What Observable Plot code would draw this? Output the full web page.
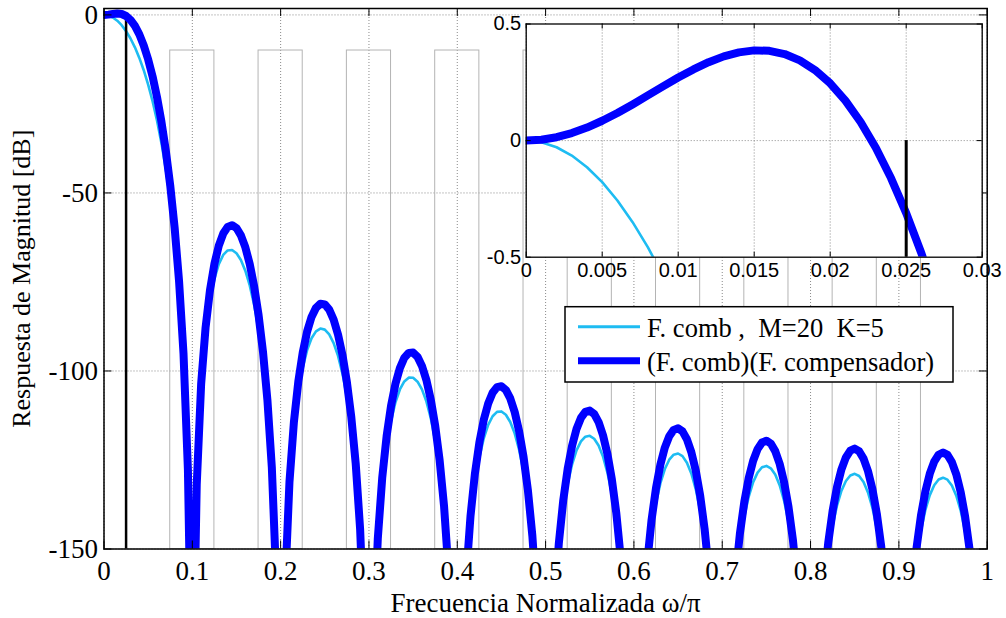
<!DOCTYPE html>
<html>
<head>
<meta charset="utf-8">
<script src="https://cdn.jsdelivr.net/npm/d3@7"></script>
<script src="https://cdn.jsdelivr.net/npm/@observablehq/plot@0.6"></script>
<style>
  html, body { margin: 0; padding: 0; background: #fff; }
  #wrap { position: relative; width: 1006px; height: 618px; overflow: hidden; background: #fff; }
</style>
</head>
<body>
<div id="wrap"></div>
<script>
// ---------- data ----------
const freq = [
0,0.005,0.01,0.015,0.02,0.025,0.03,0.035,0.04,0.045,0.05,0.055,0.06,0.065,0.07,0.075,0.08,0.085,0.09,0.095,
0.1,0.105,0.11,0.115,0.12,0.125,0.13,0.135,0.14,0.145,0.15,0.155,0.16,0.165,0.17,0.175,0.18,0.185,0.19,0.195,
0.2,0.205,0.21,0.215,0.22,0.225,0.23,0.235,0.24,0.245,0.25,0.255,0.26,0.265,0.27,0.275,0.28,0.285,0.29,0.295,
0.3,0.305,0.31,0.315,0.32,0.325,0.33,0.335,0.34,0.345,0.35,0.355,0.36,0.365,0.37,0.375,0.38,0.385,0.39,0.395,
0.4,0.405,0.41,0.415,0.42,0.425,0.43,0.435,0.44,0.445,0.45,0.455,0.46,0.465,0.47,0.475,0.48,0.485,0.49,0.495,
0.5,0.505,0.51,0.515,0.52,0.525,0.53,0.535,0.54,0.545,0.55,0.555,0.56,0.565,0.57,0.575,0.58,0.585,0.59,0.595,
0.6,0.605,0.61,0.615,0.62,0.625,0.63,0.635,0.64,0.645,0.65,0.655,0.66,0.665,0.67,0.675,0.68,0.685,0.69,0.695,
0.7,0.705,0.71,0.715,0.72,0.725,0.73,0.735,0.74,0.745,0.75,0.755,0.76,0.765,0.77,0.775,0.78,0.785,0.79,0.795,
0.8,0.805,0.81,0.815,0.82,0.825,0.83,0.835,0.84,0.845,0.85,0.855,0.86,0.865,0.87,0.875,0.88,0.885,0.89,0.895,
0.9,0.905,0.91,0.915,0.92,0.925,0.93,0.935,0.94,0.945,0.95,0.955,0.96,0.965,0.97,0.975,0.98,0.985,0.99,0.995,
1];

// F. comb, M=20 K=5  (dB)
const combDb = [
0,-0.18,-0.71,-1.62,-2.89,-4.55,-6.62,-9.11,-12.07,-15.54,-19.57,-24.24,-29.65,-35.94,-43.34,-52.17,-62.99,-76.82,-95.99,-127.9,
-200,-132.2,-104.63,-89.84,-80.44,-74.17,-70,-67.42,-66.15,-66.01,-66.92,-68.85,-71.84,-75.98,-81.44,-88.51,-97.73,-110.11,-127.94,-158.6,
-200,-160.7,-132.14,-116.42,-106.16,-99.06,-94.13,-90.83,-88.87,-88.09,-88.39,-89.74,-92.17,-95.78,-100.73,-107.33,-116.09,-128.03,-145.44,-175.7,
-250,-177.04,-148.11,-132.05,-121.45,-114.04,-108.8,-105.2,-102.95,-101.88,-101.91,-103,-105.18,-108.54,-113.26,-119.62,-128.15,-139.87,-157.06,-187.12,
-250,-188.06,-158.94,-142.69,-131.91,-124.32,-118.9,-115.13,-112.72,-111.49,-111.36,-112.29,-114.32,-117.53,-122.1,-128.32,-136.71,-148.29,-165.35,-195.27,
-250,-195.96,-166.72,-150.34,-139.44,-131.73,-126.2,-122.31,-119.79,-118.45,-118.21,-119.03,-120.95,-124.06,-128.53,-134.65,-142.94,-154.42,-171.39,-201.21,
-250,-201.71,-172.38,-155.91,-144.92,-137.13,-131.5,-127.54,-124.92,-123.5,-123.18,-123.92,-125.76,-128.79,-133.18,-139.22,-147.43,-158.84,-175.73,-205.48,
-250,-205.83,-176.42,-159.88,-148.82,-140.95,-135.26,-131.23,-128.55,-127.05,-126.66,-127.34,-129.11,-132.07,-136.39,-142.37,-150.52,-161.86,-178.69,-208.38,
-250,-208.6,-179.13,-162.53,-151.41,-143.48,-137.72,-133.63,-130.89,-129.34,-128.89,-129.5,-131.21,-134.12,-138.38,-144.29,-152.39,-163.67,-180.44,-210.07,
-250,-210.18,-180.66,-164,-152.82,-144.83,-139.03,-134.87,-132.08,-130.47,-129.97,-130.53,-132.18,-135.03,-139.24,-145.1,-153.14,-164.37,-181.09,-210.66,
-250];

// (F. comb)(F. compensador)  (dB)
const compDb = [
0,0.08,0.27,0.39,0.25,-0.31,-1.4,-3.1,-5.47,-8.58,-12.49,-17.28,-23.05,-29.93,-38.12,-47.93,-59.85,-74.82,-95.01,-127.63,
-200,-131.94,-103.64,-87.83,-77.31,-69.93,-64.78,-61.41,-59.55,-59.06,-59.85,-61.9,-65.24,-69.96,-76.22,-84.27,-94.59,-108.1,-126.95,-158.34,
-250,-160.44,-131.15,-114.41,-103.02,-94.83,-88.92,-84.82,-82.28,-81.13,-81.31,-82.78,-85.57,-89.77,-95.52,-103.09,-112.95,-126.02,-144.45,-175.43,
-250,-176.77,-147.13,-130.04,-118.32,-109.8,-103.58,-99.18,-96.35,-94.93,-94.84,-96.04,-98.58,-102.53,-108.04,-115.38,-125.01,-137.86,-156.08,-186.85,
-250,-187.79,-157.95,-140.68,-128.78,-120.08,-113.68,-109.12,-106.12,-104.53,-104.28,-105.33,-107.72,-111.52,-116.88,-124.08,-133.58,-146.28,-164.37,-195.01,
-250,-195.69,-165.73,-148.33,-136.31,-127.49,-120.98,-116.3,-113.19,-111.49,-111.13,-112.07,-114.35,-118.05,-123.31,-130.41,-139.81,-152.42,-170.4,-200.95,
-250,-201.45,-171.39,-153.91,-141.79,-132.89,-126.29,-121.52,-118.33,-116.55,-116.11,-116.97,-119.16,-122.78,-127.96,-134.98,-144.3,-156.84,-174.74,-205.22,
-250,-205.56,-175.44,-157.88,-145.69,-136.72,-130.05,-125.21,-121.95,-120.1,-119.59,-120.38,-122.51,-126.06,-131.18,-138.13,-147.39,-159.86,-177.7,-208.11,
-250,-208.33,-178.14,-160.52,-148.27,-139.24,-132.51,-127.61,-124.29,-122.38,-121.81,-122.54,-124.61,-128.1,-133.16,-140.06,-149.26,-161.67,-179.46,-209.81,
-250,-209.92,-179.67,-161.99,-149.69,-140.6,-133.81,-128.86,-125.48,-123.52,-122.9,-123.57,-125.59,-129.02,-134.02,-140.86,-150.01,-162.37,-180.1,-210.4,
-250];

// inset (zoom of the pass band)
const insetFreq = [0,0.001,0.002,0.003,0.004,0.005,0.006,0.007,0.008,0.009,0.01,0.011,0.012,0.013,0.014,0.015,0.016,0.017,0.018,0.019,0.02,0.021,0.022,0.023,0.024,0.025,0.026,0.027];
const insetComp = [0,0.0036,0.0145,0.0321,0.0559,0.0851,0.1186,0.1552,0.1937,0.2326,0.2703,0.3053,0.3361,0.3612,0.3784,0.3869,0.3849,0.3711,0.3441,0.3027,0.2455,0.1717,0.08,-0.0304,-0.1606,-0.3112,-0.4832,-0.6772];
const insetCombFreq = [0,0.001,0.002,0.003,0.004,0.005,0.006,0.007,0.008,0.009];
const insetComb = [0,-0.0071,-0.0285,-0.0642,-0.1141,-0.1783,-0.2568,-0.3497,-0.457,-0.5788];

// grey aliasing bands
const bandLeft  = [0.075,0.175,0.275,0.375,0.475,0.575,0.675,0.775,0.875];
const bandRight = [0.125,0.225,0.325,0.425,0.525,0.625,0.725,0.825,0.925];
const bandTop = -10;
const bandBottom = -150;
const markerFreq = 0.025;

// ticks & labels
const xTicks = [0,0.1,0.2,0.3,0.4,0.5,0.6,0.7,0.8,0.9,1];
const xTickLabels = ["0","0.1","0.2","0.3","0.4","0.5","0.6","0.7","0.8","0.9","1"];
const yTicks = [0,-50,-100,-150];
const yTickLabels = ["0","-50","-100","-150"];
const insetXTicks = [0,0.005,0.01,0.015,0.02,0.025,0.03];
const insetXTickLabels = ["0","0.005","0.01","0.015","0.02","0.025","0.03"];
const insetYTicks = [-0.5,0,0.5];
const insetYTickLabels = ["-0.5","0","0.5"];
const xLabel = "Frecuencia Normalizada \u03c9/\u03c0";
const yLabel = "Respuesta de Magnitud [dB]";
const legendLabels = ["F. comb ,  M=20  K=5", "(F. comb)(F. compensador)"];

// ---------- styles ----------
const cyan = "#1ebcf2";
const blue = "#0000ff";
const gridColor = "#8a8a8a";
const bandColor = "#b4b4b4";
const serif = "'Liberation Serif', 'Times New Roman', serif";
const sans = "'Liberation Sans', Arial, sans-serif";

// ---------- tables ----------
const mainRows = freq.map((f, i) => ({f, comb: combDb[i], comp: compDb[i]}));
const bands = bandLeft.map((l, i) => ({l, r: bandRight[i]}));
const insetRows = insetFreq.map((f, i) => ({f, comp: insetComp[i]}));
const insetCombRows = insetCombFreq.map((f, i) => ({f, comb: insetComb[i]}));
const xTickRows = xTicks.map((v, i) => ({v, s: xTickLabels[i]}));
const yTickRows = yTicks.map((v, i) => ({v, s: yTickLabels[i]}));
const ixTickRows = insetXTicks.map((v, i) => ({v, s: insetXTickLabels[i]}));
const iyTickRows = insetYTicks.map((v, i) => ({v, s: insetYTickLabels[i]}));

const wrap = document.getElementById("wrap");

// ---------- main plot ----------
const W = 1006, H = 618, mL = 103.5, mR = 19.3, mT = 8, mB = 69.5;
const pW = W - mL - mR, pH = H - mT - mB, tk = 8;

const main = Plot.plot({
  width: W, height: H,
  marginLeft: mL, marginRight: mR, marginTop: mT, marginBottom: mB,
  style: {fontFamily: serif, fontSize: "27px", background: "white", color: "black", overflow: "visible"},
  x: {domain: [0, 1], axis: null},
  y: {domain: [-150, 1.8], axis: null},
  marks: [
    Plot.gridX(xTicks, {stroke: gridColor, strokeOpacity: 1, strokeDasharray: "1,2"}),
    Plot.gridY(yTicks, {stroke: gridColor, strokeOpacity: 1, strokeDasharray: "1,2"}),
    Plot.rect(bands, {x1: "l", x2: "r", y1: bandBottom, y2: bandTop, fill: "none", stroke: bandColor, strokeWidth: 1}),
    Plot.line(mainRows, {x: "f", y: "comb", stroke: cyan, strokeWidth: 2.6, clip: true}),
    Plot.ruleX([markerFreq], {y1: 0, y2: -150, stroke: "black", strokeWidth: 2.5}),
    Plot.line(mainRows, {x: "f", y: "comp", stroke: blue, strokeWidth: 8, strokeLinejoin: "round", clip: true}),
    Plot.frame({stroke: "black", strokeWidth: 1.5}),
    Plot.tickX(xTicks, {x: d => d, stroke: "black", insetTop: pH - tk}),
    Plot.tickX(xTicks, {x: d => d, stroke: "black", insetBottom: pH - tk}),
    Plot.tickY(yTicks, {y: d => d, stroke: "black", insetRight: pW - tk}),
    Plot.tickY(yTicks, {y: d => d, stroke: "black", insetLeft: pW - tk}),
    Plot.text(xTickRows, {x: "v", text: "s", frameAnchor: "bottom", dy: 12, lineAnchor: "top", fontSize: 27, fill: "black"}),
    Plot.text(yTickRows, {y: "v", text: "s", frameAnchor: "left", dx: -6, textAnchor: "end", lineAnchor: "middle", fontSize: 27, fill: "black"}),
    Plot.text([xLabel], {text: d => d, frameAnchor: "bottom", dy: 54, lineAnchor: "middle", fontSize: 27, fill: "black"}),
    Plot.text([yLabel], {text: d => d, frameAnchor: "left", dx: -82, rotate: -90, textAnchor: "middle", lineAnchor: "middle", fontSize: 26, fill: "black"})
  ]
});
wrap.appendChild(main);

// ---------- inset plot ----------
const iW = 536, iH = 290, iL = 55.7, iR = 24.3, iT = 23.5, iB = 33.3;
const ipW = iW - iL - iR, ipH = iH - iT - iB, itk = 5;
const inset = Plot.plot({
  width: iW, height: iH,
  marginLeft: iL, marginRight: iR, marginTop: iT, marginBottom: iB,
  style: {fontFamily: sans, fontSize: "20px", background: "transparent", color: "black", overflow: "visible"},
  x: {domain: [0, 0.03], axis: null},
  y: {domain: [-0.5, 0.5], axis: null},
  marks: [
    Plot.frame({fill: "white", stroke: null}),
    Plot.gridX(insetXTicks, {stroke: gridColor, strokeOpacity: 1, strokeDasharray: "1,2"}),
    Plot.gridY([0], {stroke: gridColor, strokeOpacity: 1, strokeDasharray: "1,2"}),
    Plot.line(insetCombRows, {x: "f", y: "comb", stroke: cyan, strokeWidth: 2.6, clip: true}),
    Plot.line(insetRows, {x: "f", y: "comp", stroke: blue, strokeWidth: 8, strokeLinejoin: "round", clip: true}),
    Plot.ruleX([markerFreq], {y1: 0, y2: -0.5, stroke: "black", strokeWidth: 3}),
    Plot.frame({stroke: "black", strokeWidth: 1.3}),
    Plot.tickX(insetXTicks, {x: d => d, stroke: "black", insetTop: ipH - itk}),
    Plot.tickX(insetXTicks, {x: d => d, stroke: "black", insetBottom: ipH - itk}),
    Plot.tickY(insetYTicks, {y: d => d, stroke: "black", insetRight: ipW - itk}),
    Plot.tickY(insetYTicks, {y: d => d, stroke: "black", insetLeft: ipW - itk}),
    Plot.text(ixTickRows, {x: "v", text: "s", frameAnchor: "bottom", dy: 6, lineAnchor: "top", fontSize: 20, fill: "black"}),
    Plot.text(iyTickRows, {y: "v", text: "s", frameAnchor: "left", dx: -5, textAnchor: "end", lineAnchor: "middle", fontSize: 20, fill: "black"})
  ]
});
inset.style.position = "absolute";
inset.style.left = "470px";
inset.style.top = "0px";
wrap.appendChild(inset);

// ---------- legend ----------
const lg = d3.create("svg")
  .attr("width", 392).attr("height", 80)
  .style("position", "absolute").style("left", "563px").style("top", "305px")
  .style("overflow", "visible");
lg.append("rect").attr("x", 2).attr("y", 1.7).attr("width", 388).attr("height", 75.3)
  .attr("fill", "white").attr("stroke", "black").attr("stroke-width", 1.5);
const legendColors = [cyan, blue];
const legendWidths = [3, 7];
legendLabels.forEach((lab, i) => {
  const cy = 21.7 + i * 34;
  lg.append("line").attr("x1", 15).attr("x2", 77).attr("y1", cy).attr("y2", cy)
    .attr("stroke", legendColors[i]).attr("stroke-width", legendWidths[i]);
  lg.append("text").attr("x", 84).attr("y", cy + 10.5)
    .attr("font-family", serif)
    .attr("font-size", 26.5).style("white-space", "pre").attr("fill", "black")
    .text(lab);
});
wrap.appendChild(lg.node());
</script>
</body>
</html>
